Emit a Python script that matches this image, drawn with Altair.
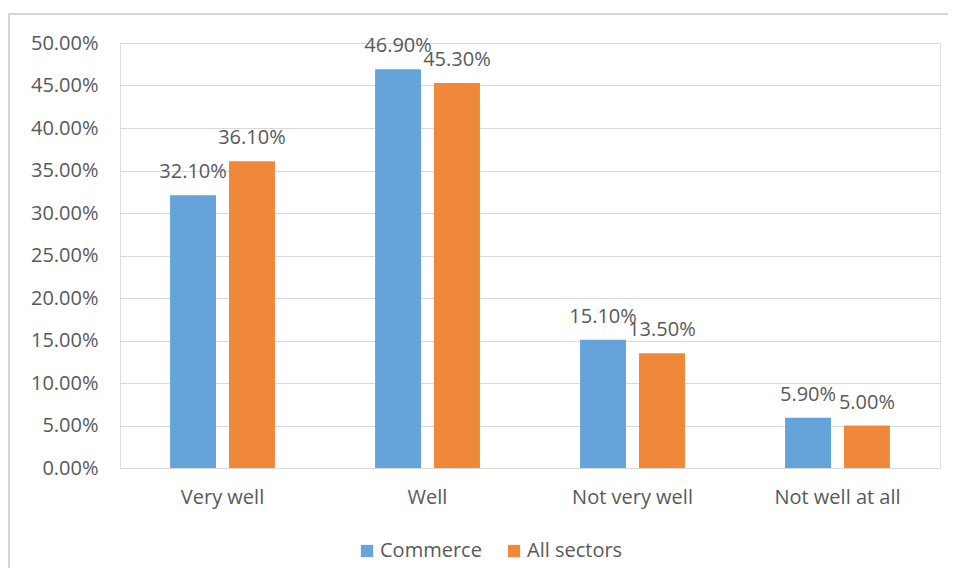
import altair as alt
import pandas as pd

categories = ["Very well", "Well", "Not very well", "Not well at all"]
series = ["Commerce", "All sectors"]
commerce = [0.321, 0.469, 0.151, 0.059]
all_sectors = [0.361, 0.453, 0.135, 0.050]
y_ticks = [0, 0.05, 0.10, 0.15, 0.20, 0.25, 0.30, 0.35, 0.40, 0.45, 0.50]
colors = ["#65A3DB", "#EF8838"]

rows = []
for c, v1, v2 in zip(categories, commerce, all_sectors):
    rows.append({"cat": c, "series": series[0], "val": v1})
    rows.append({"cat": c, "series": series[1], "val": v2})
df = pd.DataFrame(rows)

FONT = "Open Sans"
TXT = "#595959"
FS = 20

x = alt.X("cat:N", sort=categories, title=None,
          scale=alt.Scale(paddingInner=0, paddingOuter=0),
          axis=alt.Axis(labelAngle=0, labelFontSize=FS, labelColor=TXT, labelFont=FONT,
                        ticks=False, domain=False, labelPadding=19))
xo = alt.XOffset("series:N", sort=series,
                 scale=alt.Scale(paddingInner=0.22, paddingOuter=0.85))
y = alt.Y("val:Q", title=None,
          scale=alt.Scale(domain=[0, 0.5], nice=False),
          axis=alt.Axis(values=y_ticks, format=".2%", labelFontSize=FS, labelColor=TXT,
                        labelFont=FONT, ticks=False, domain=False, labelPadding=22,
                        gridColor="#d9d9d9", gridWidth=1.2))

bars = alt.Chart(df).mark_bar().encode(
    x=x, xOffset=xo, y=y,
    color=alt.Color("series:N", sort=series,
                    scale=alt.Scale(domain=series, range=colors),
                    legend=alt.Legend(title=None, orient="none", direction="horizontal",
                                      legendX=237, legendY=498, symbolType="square",
                                      symbolSize=150, symbolStrokeWidth=0, labelFontSize=FS,
                                      labelColor=TXT, labelFont=FONT, columnPadding=22,
                                      symbolOffset=0, labelOffset=3)),
)

labels = alt.Chart(df).mark_text(baseline="alphabetic", dy=-17, fontSize=FS,
                                 color=TXT, font=FONT).encode(
    x=x, xOffset=xo, y=y,
    text=alt.Text("val:Q", format=".2%"),
)

border_data = alt.Data(values=[{"k": 1}])
left_border = alt.Chart(border_data).mark_rule(color="#d6d6d6", strokeWidth=2, clip=False).encode(
    x=alt.value(-111), y=alt.value(-29), y2=alt.value(540))
top_border = alt.Chart(border_data).mark_rule(color="#d6d6d6", strokeWidth=2, clip=False).encode(
    x=alt.value(-112), x2=alt.value(830), y=alt.value(-29))

chart = alt.layer(bars, labels, left_border, top_border).properties(
    width=820, height=425,
    autosize=alt.AutoSizeParams(type="none"),
    padding={"left": 112, "top": 35, "right": 8, "bottom": 100},
).configure_view(stroke=None).configure(background="white")

chart.save("out.html", embed_options={"renderer": "svg", "actions": False})
